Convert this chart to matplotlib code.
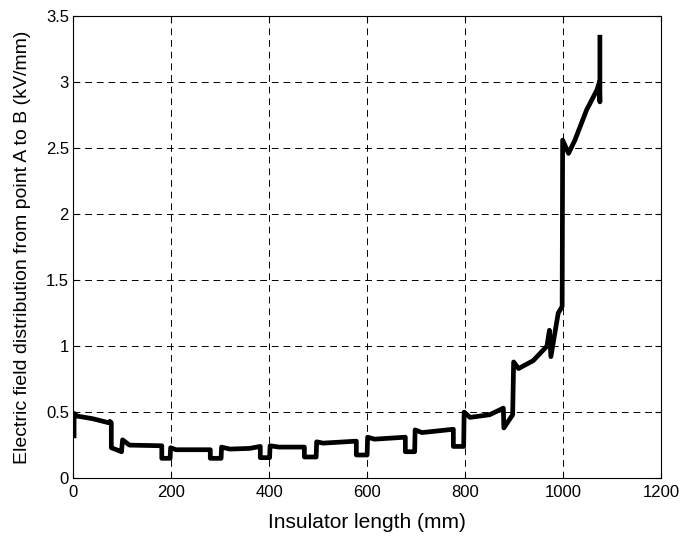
import matplotlib
matplotlib.use("Agg")
import matplotlib.pyplot as plt

# insulator length (mm) and field (kV/mm)
length_mm = [2, 2, 8, 40, 72, 75, 78, 78, 99, 99, 101, 115, 181, 181, 198, 199, 210,
             280, 280, 302, 303, 320, 360, 382, 382, 401, 402, 420, 472, 472, 496, 497,
             510, 578, 578, 600, 601, 615, 678, 678, 697, 698, 712, 776, 776, 797, 798,
             810, 850, 878, 879, 897, 899, 909, 939, 967, 972, 975, 990, 998, 999, 1011,
             1024, 1048, 1069, 1074, 1075, 1075]
field_kv = [0.32, 0.49, 0.47, 0.45, 0.42, 0.43, 0.42, 0.23, 0.20, 0.21, 0.29, 0.25, 0.245, 0.15, 0.15, 0.23, 0.215,
            0.215, 0.15, 0.15, 0.235, 0.22, 0.225, 0.24, 0.155, 0.155, 0.245, 0.235, 0.235, 0.16, 0.16, 0.275,
            0.265, 0.28, 0.175, 0.175, 0.31, 0.295, 0.31, 0.20, 0.20, 0.365, 0.345, 0.37, 0.24, 0.24, 0.50,
            0.46, 0.48, 0.53, 0.38, 0.48, 0.88, 0.83, 0.89, 1.0, 1.12, 0.92, 1.25, 1.30, 2.56, 2.46,
            2.56, 2.79, 2.94, 3.0, 2.85, 3.34]

plt.rcParams['font.family'] = ['Liberation Sans', 'DejaVu Sans']

fig = plt.figure(figsize=(6.83, 5.36), dpi=100)
ax = fig.add_axes([0.107, 0.108, 0.861, 0.862])

ax.plot(length_mm, field_kv, color='black', lw=3.4, solid_joinstyle='round')

ax.set_xlim(0, 1200)
ax.set_ylim(0, 3.5)
ax.set_xticks([0, 200, 400, 600, 800, 1000, 1200])
ax.set_yticks([0, 0.5, 1, 1.5, 2, 2.5, 3, 3.5])
ax.set_yticklabels(['0', '0.5', '1', '1.5', '2', '2.5', '3', '3.5'])
ax.grid(True, color='black', lw=0.7, linestyle=(0, (7, 5)))
ax.tick_params(direction='in', top=True, right=True, length=4, labelsize=12)
ax.tick_params(axis='x', pad=5)
ax.tick_params(axis='y', pad=3)
for s in ax.spines.values():
    s.set_linewidth(0.8)

ax.set_xlabel("Insulator length (mm)", fontsize=15, labelpad=9)
ax.set_ylabel("Electric field distribution from point A to B (kV/mm)", fontsize=14, labelpad=11)

fig.savefig("out.png", dpi=100)
